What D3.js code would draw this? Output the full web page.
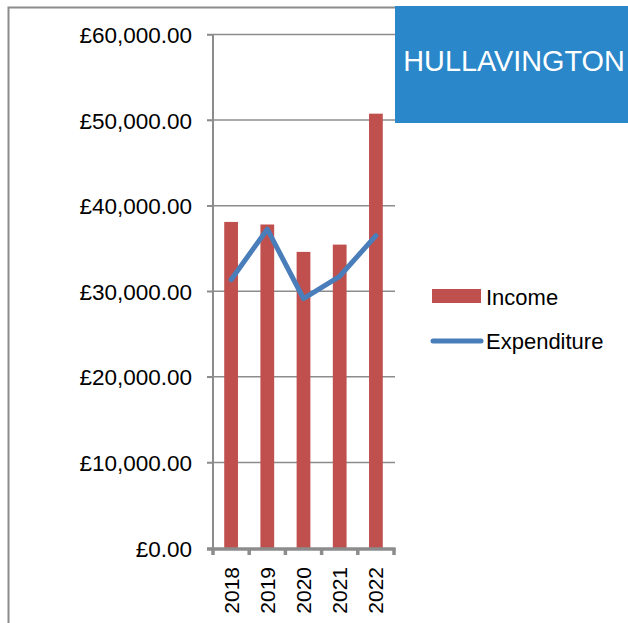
<!DOCTYPE html>
<html>
<head>
<meta charset="utf-8">
<script src="https://cdn.jsdelivr.net/npm/d3@7"></script>
<style>
  html, body { margin: 0; padding: 0; background: #fff; }
  svg { display: block; font-family: "Liberation Sans", Arial, sans-serif; }
</style>
</head>
<body>
<div id="chart"></div>
<script>
// Chart data
var years = ["2018", "2019", "2020", "2021", "2022"];
var income = [38100, 37800, 34600, 35450, 50750];
var expenditure = [31350, 37250, 29150, 31750, 36500];
var yTicks = [0, 10000, 20000, 30000, 40000, 50000, 60000];
var seriesNames = ["Income", "Expenditure"];
var title = "HULLAVINGTON";

var width = 628, height = 623;
var incomeColor = "#C0504D", expColor = "#4A7EBB", gridColor = "#8c8c8c";

var svg = d3.select("#chart").append("svg")
    .attr("width", width)
    .attr("height", height);

// outer chart border (runs off the bottom and right of the picture)
svg.append("path")
    .attr("d", "M8.5,630 L8.5,7.5 L640,7.5")
    .attr("fill", "none")
    .attr("stroke", "#8c8c8c")
    .attr("stroke-width", 2);

// Scales
var x = d3.scaleBand()
    .domain(years)
    .range([213, 394])
    .paddingInner(0.62)
    .paddingOuter(0.31);

var y = d3.scaleLinear()
    .domain([0, 60000])
    .range([548, 34.5]);

var fmt = d3.format(",.2f");

// gridlines
svg.append("g").selectAll("line")
    .data(yTicks.filter(function(d) { return d > 0; }))
    .enter().append("line")
    .attr("x1", 207).attr("x2", 395)
    .attr("y1", function(d) { return y(d); })
    .attr("y2", function(d) { return y(d); })
    .attr("stroke", gridColor)
    .attr("stroke-width", 1.5);

// y axis
var yAxis = d3.axisLeft(y)
    .tickValues(yTicks)
    .tickSize(6)
    .tickPadding(15)
    .tickFormat(function(d) { return "£" + fmt(d); });

var gy = svg.append("g")
    .attr("transform", "translate(213,0)")
    .call(yAxis);
gy.select(".domain").remove();
gy.selectAll(".tick line").attr("stroke", gridColor).attr("stroke-width", 1.5);
gy.selectAll(".tick text")
    .attr("fill", "#000")
    .style("font-size", "22.5px")
    .style("font-family", "'Liberation Sans', Arial, sans-serif")
    .attr("dy", "0.36em");

svg.append("line")
    .attr("x1", 213).attr("x2", 213)
    .attr("y1", y(60000)).attr("y2", y(0))
    .attr("stroke", gridColor)
    .attr("stroke-width", 2);

// bars
svg.append("g").selectAll("rect")
    .data(income)
    .enter().append("rect")
    .attr("x", function(d, i) { return x(years[i]); })
    .attr("y", function(d) { return y(d); })
    .attr("width", x.bandwidth())
    .attr("height", function(d) { return y(0) - y(d); })
    .attr("fill", incomeColor);

// x axis line + boundary ticks
var bounds = d3.range(years.length + 1).map(function(i) { return 213 + i * x.step(); });
svg.append("line")
    .attr("x1", 207).attr("x2", bounds[bounds.length - 1] + 1.5)
    .attr("y1", y(0) + 1).attr("y2", y(0) + 1)
    .attr("stroke", gridColor)
    .attr("stroke-width", 3.5);
svg.append("g").selectAll("line")
    .data(bounds)
    .enter().append("line")
    .attr("x1", function(d) { return d; })
    .attr("x2", function(d) { return d; })
    .attr("y1", y(0)).attr("y2", y(0) + 7)
    .attr("stroke", gridColor)
    .attr("stroke-width", 3.5);

// x labels rotated
svg.append("g").selectAll("text")
    .data(years)
    .enter().append("text")
    .attr("transform", function(d) {
        return "translate(" + (x(d) + x.bandwidth() / 2 + 7.5) + ",567) rotate(-90)";
    })
    .attr("text-anchor", "end")
    .style("font-size", "21px")
    .attr("fill", "#000")
    .text(function(d) { return d; });

// expenditure line
var line = d3.line()
    .x(function(d, i) { return x(years[i]) + x.bandwidth() / 2; })
    .y(function(d) { return y(d); });

svg.append("path")
    .datum(expenditure)
    .attr("d", line)
    .attr("fill", "none")
    .attr("stroke", expColor)
    .attr("stroke-width", 5)
    .attr("stroke-linejoin", "round")
    .attr("stroke-linecap", "round");

// title box
svg.append("rect")
    .attr("x", 395).attr("y", 6)
    .attr("width", width - 395).attr("height", 117)
    .attr("fill", "#2A87C9");
svg.append("text")
    .attr("x", 514).attr("y", 71)
    .attr("text-anchor", "middle")
    .attr("fill", "#fff")
    .style("font-size", "28.8px")
    .text(title);

// legend
var legend = svg.append("g");
legend.append("rect")
    .attr("x", 432).attr("y", 289)
    .attr("width", 49).attr("height", 14)
    .attr("fill", incomeColor);
legend.append("text")
    .attr("x", 486).attr("y", 305)
    .style("font-size", "22px")
    .text(seriesNames[0]);
legend.append("line")
    .attr("x1", 433).attr("x2", 481)
    .attr("y1", 341).attr("y2", 341)
    .attr("stroke", expColor)
    .attr("stroke-width", 5)
    .attr("stroke-linecap", "round");
legend.append("text")
    .attr("x", 486).attr("y", 349)
    .style("font-size", "22px")
    .text(seriesNames[1]);
</script>
</body>
</html>
